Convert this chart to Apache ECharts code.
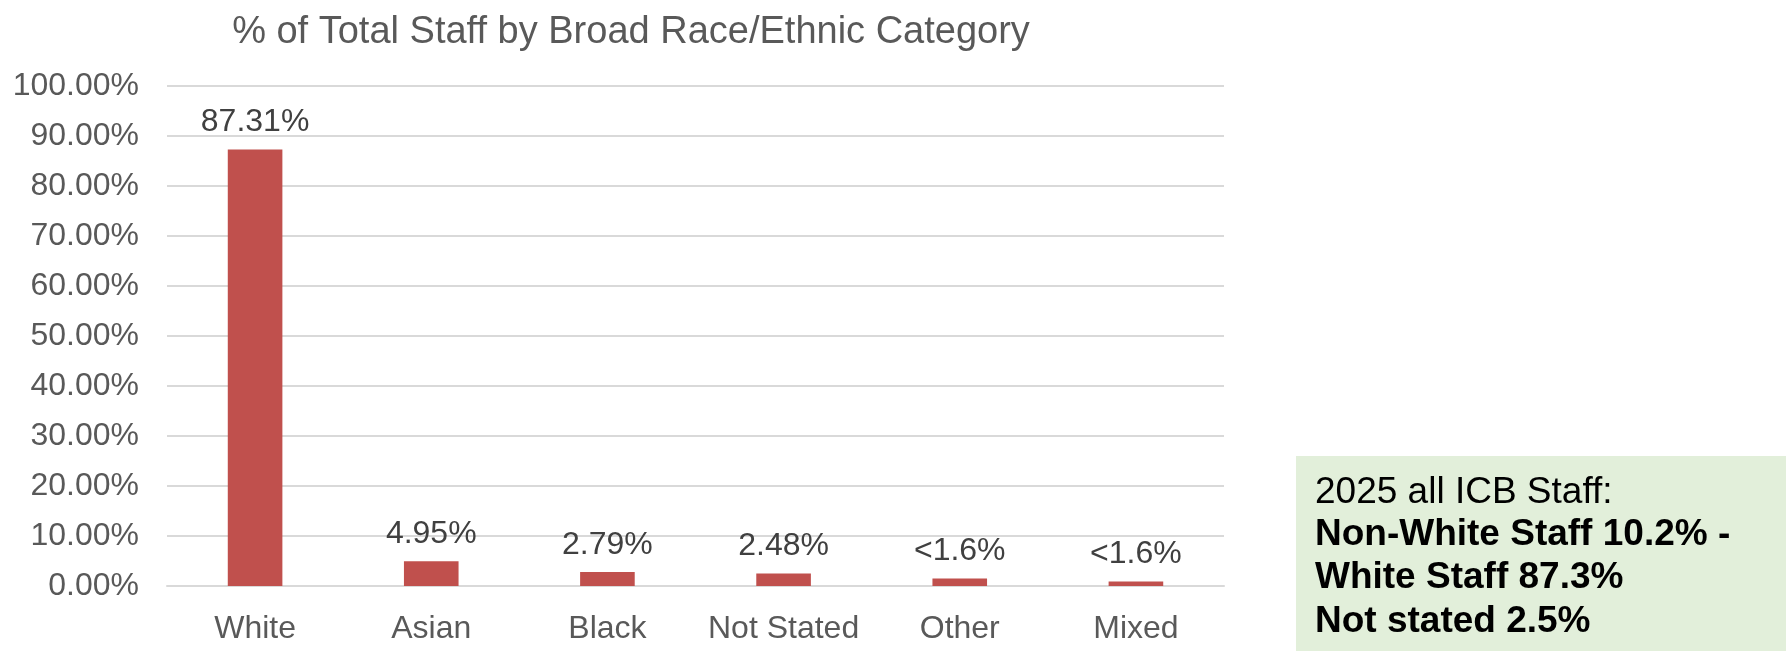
<!DOCTYPE html>
<html>
<head>
<meta charset="utf-8">
<title>% of Total Staff by Broad Race/Ethnic Category</title>
<script src="https://cdn.jsdelivr.net/npm/echarts@6/dist/echarts.min.js"></script>
<style>
  html, body { margin: 0; padding: 0; background: #ffffff; }
  #chart { width: 1786px; height: 651px; }
</style>
</head>
<body>
<div id="chart"></div>
<script>
// Staff share by broad race/ethnic category (percent of total staff)
const categories = ['White', 'Asian', 'Black', 'Not Stated', 'Other', 'Mixed'];
const shares = [87.31, 4.95, 2.79, 2.48, 1.5, 0.9];
// Printed labels; small groups are suppressed to a bound
const valueLabels = ['87.31%', '4.95%', '2.79%', '2.48%', '<1.6%', '<1.6%'];
const yTicks = { min: 0, max: 100, step: 10 };

const summaryLines = [
  { text: '2025 all ICB Staff:', bold: false },
  { text: 'Non-White Staff 10.2% -', bold: true },
  { text: 'White Staff 87.3%', bold: true },
  { text: 'Not stated 2.5%', bold: true }
];
const summaryY = [493, 535, 578, 622];

const FONT = "'Liberation Sans', Arial, sans-serif";
const chart = echarts.init(document.getElementById('chart'), null, { renderer: 'canvas' });

const summaryGraphics = [
  {
    type: 'rect',
    shape: { x: 1296, y: 456, width: 490, height: 195 },
    style: { fill: '#e2efda' },
    silent: true
  }
].concat(summaryLines.map((line, i) => ({
  type: 'text',
  x: 1315,
  y: summaryY[i],
  style: {
    text: line.text,
    fill: '#000000',
    font: (line.bold ? 'bold ' : '') + '37px ' + FONT,
    verticalAlign: 'middle',
    align: 'left'
  },
  silent: true
})));

chart.setOption({
  animation: false,
  title: {
    text: '% of Total Staff by Broad Race/Ethnic Category',
    left: 626,
    top: 9,
    textAlign: 'center',
    textStyle: { color: '#595959', fontSize: 38, fontWeight: 'normal', fontFamily: FONT }
  },
  grid: { left: 167, right: 562, top: 86, bottom: 65, containLabel: false },
  xAxis: {
    type: 'category',
    data: categories,
    axisLine: { show: true, lineStyle: { color: '#d9d9d9', width: 2 } },
    axisTick: { show: false },
    axisLabel: { color: '#595959', fontSize: 32, fontFamily: FONT, margin: 27, interval: 0 }
  },
  yAxis: {
    type: 'value',
    min: yTicks.min,
    max: yTicks.max,
    interval: yTicks.step,
    axisLine: { show: false },
    axisTick: { show: false },
    splitLine: { lineStyle: { color: '#d9d9d9', width: 2 } },
    axisLabel: {
      color: '#595959', fontSize: 32, fontFamily: FONT, margin: 28,
      formatter: v => v.toFixed(2) + '%'
    }
  },
  series: [{
    type: 'bar',
    data: shares,
    barWidth: '31%',
    itemStyle: { color: '#c0504d' },
    label: {
      show: true,
      position: 'top',
      distance: 11,
      color: '#404040',
      fontSize: 32,
      fontFamily: FONT,
      formatter: p => valueLabels[p.dataIndex]
    }
  }],
  graphic: summaryGraphics
});
</script>
</body>
</html>
